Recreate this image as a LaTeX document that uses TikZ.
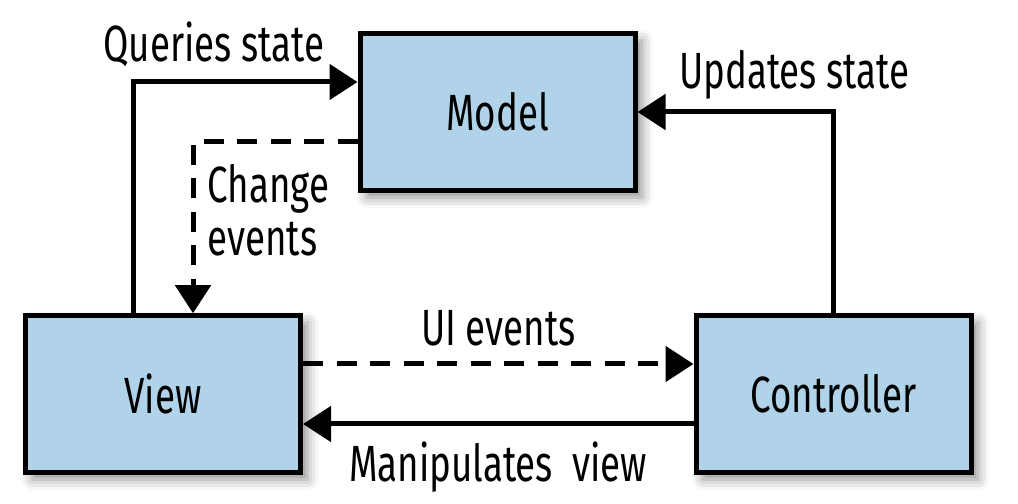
\documentclass[tikz,border=0pt]{standalone}
\usepackage{fontspec}
\setmainfont{Fira Sans}[FakeStretch=0.72]
\usepackage{tikz}
\usetikzlibrary{arrows.meta, shadows.blur}
\definecolor{boxblue}{RGB}{176,211,233}
\tikzset{
    mvc/.style={rectangle,draw=black,fill=boxblue,line width=0.1cm,
        minimum width=5.5cm,minimum height=3.13cm,inner sep=0pt,
        font=\fontsize{29}{30}\selectfont,
        blur shadow={shadow xshift=0.14cm,shadow yshift=-0.14cm,
            shadow blur radius=0.22cm,shadow opacity=45}},
    lbl/.style={fill=none,draw=none,text=black,inner sep=0.3cm,
        font=\fontsize{29}{30}\selectfont},
    conn/.style={draw,line width=0.1cm,-{Triangle[length=0.56cm,width=0.7cm]}},
    evdash/.style={dash pattern=on 0.4cm off 0.27cm}
}
\begin{document}
\begin{tikzpicture}
\def\d{0.6}
\useasboundingbox (0,0) rectangle (20.36,10.08);
\node[mvc] (model) at (9.95,7.84) {Model};
\node[mvc] (view)  at (3.26,2.2)  {View};
\node[mvc] (ctrl)  at (16.67,2.2) {Controller};
\draw[conn] ([xshift=-\d cm]view.north) |- ([yshift=\d cm]model.west)
    node[lbl,above,pos=0.68,yshift=-0.04cm] {Queries state};
\draw[conn,evdash] ([yshift=-\d cm]model.west) -| ([xshift=\d cm]view.north)
    node[lbl,right,align=left,pos=0.70,inner sep=0.24cm] {Change\\events};
\draw[conn] (ctrl.north) |- (model.east)
    node[lbl,above,pos=0.6,inner sep=0.2cm] {Updates state};
\draw[conn,evdash] ([yshift=\d cm]view.east) -- ([yshift=\d cm]ctrl.west)
    node[lbl,above,midway] {UI events};
\draw[conn] ([yshift=-\d cm]ctrl.west) -- ([yshift=-\d cm]view.east)
    node[lbl,below,midway] {Manipulates~~view};
\end{tikzpicture}
\end{document}
